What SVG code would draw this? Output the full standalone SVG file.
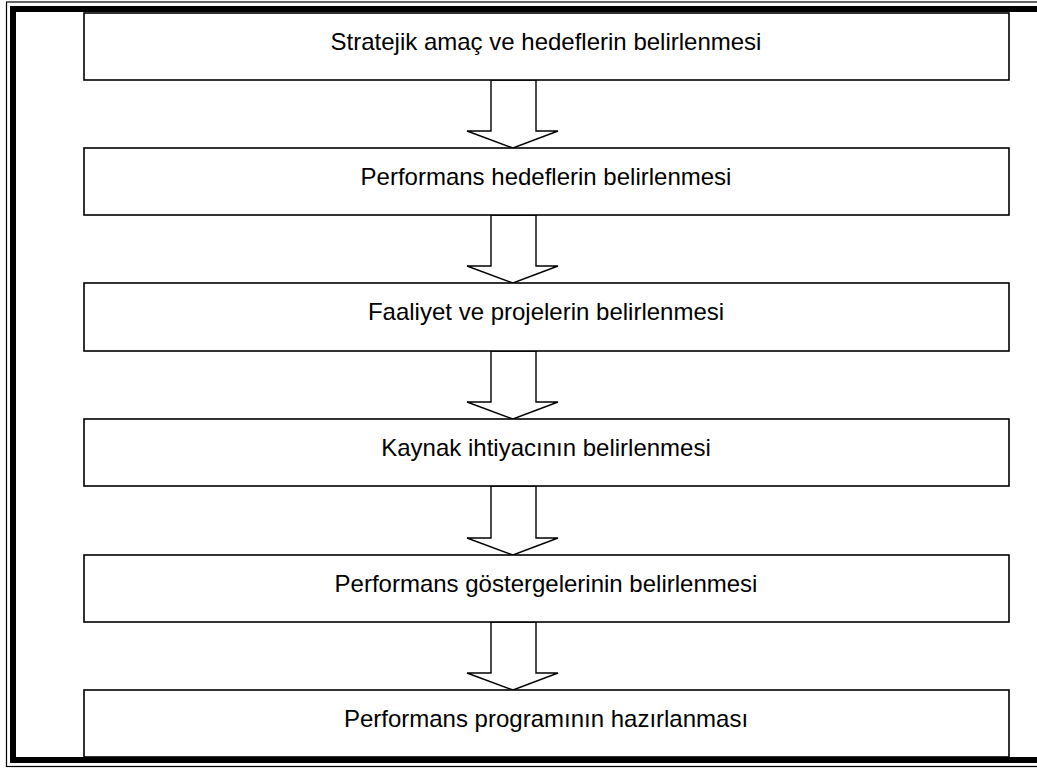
<svg xmlns="http://www.w3.org/2000/svg" width="1037" height="768" viewBox="0 0 1037 768">
  <style>
    .box { fill: #fff; stroke: #000; stroke-width: 1.6; }
    .arrow { fill: #fff; stroke: #000; stroke-width: 1.4; stroke-linejoin: miter; }
    .label { font-family: "Liberation Sans", Arial, sans-serif; font-size: 24px; fill: #000; text-anchor: middle; }
  </style>
  <rect width="1037" height="768" fill="#fff"/>
  <!-- double page frame: thin outer line and thick inner band -->
  <g id="frame">
    <rect x="6.5" y="2" width="1040" height="764.5" fill="none" stroke="#000" stroke-width="1.2"/>
    <rect x="13" y="9" width="1030" height="751" fill="none" stroke="#000" stroke-width="6"/>
  </g>

  <g id="connectors">
    <polygon class="arrow" points="491,80 536,80 536,131 558,131 513,148 467,131 491,131"/>
    <polygon class="arrow" points="491,215 536,215 536,266 558,266 513,283 467,266 491,266"/>
    <polygon class="arrow" points="491,351 536,351 536,402 558,402 513,419 467,402 491,402"/>
    <polygon class="arrow" points="491,486 536,486 536,538 558,538 513,555 467,538 491,538"/>
    <polygon class="arrow" points="491,622 536,622 536,673 558,673 513,690 467,673 491,673"/>
  </g>

  <g id="n1">
    <rect class="box" x="84" y="13" width="925" height="67"/>
    <text class="label" x="546" y="50">Stratejik amaç ve hedeflerin belirlenmesi</text>
  </g>
  <g id="n2">
    <rect class="box" x="84" y="148" width="925" height="67"/>
    <text class="label" x="546" y="185">Performans hedeflerin belirlenmesi</text>
  </g>
  <g id="n3">
    <rect class="box" x="84" y="283" width="925" height="68"/>
    <text class="label" x="546" y="320">Faaliyet ve projelerin belirlenmesi</text>
  </g>
  <g id="n4">
    <rect class="box" x="84" y="419" width="925" height="67"/>
    <text class="label" x="546" y="456">Kaynak ihtiyacının belirlenmesi</text>
  </g>
  <g id="n5">
    <rect class="box" x="84" y="555" width="925" height="67"/>
    <text class="label" x="546" y="592">Performans göstergelerinin belirlenmesi</text>
  </g>
  <g id="n6">
    <rect class="box" x="84" y="690" width="925" height="67"/>
    <text class="label" x="546" y="727">Performans programının hazırlanması</text>
  </g>
</svg>
